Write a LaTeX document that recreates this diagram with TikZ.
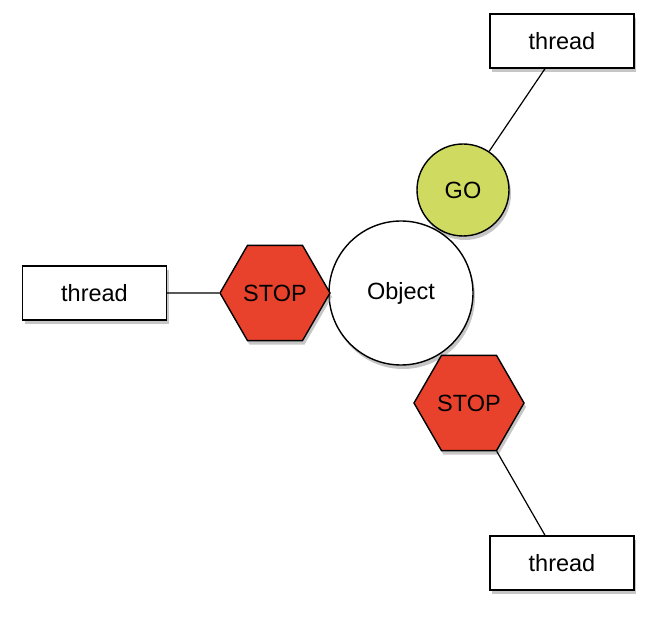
\documentclass[tikz,border=0pt]{standalone}
\usepackage{fontspec}
\setmainfont{Liberation Sans}
\usetikzlibrary{shapes.geometric,shadows}
\definecolor{stopred}{RGB}{232,66,44}
\definecolor{gogreen}{RGB}{207,218,96}
\tikzset{
  shade/.style={drop shadow={shadow xshift=2pt,shadow yshift=-4pt,opacity=0.45}},
  threadbox/.style={draw,line width=1.4pt,fill=white,shade,minimum width=144pt,minimum height=54pt,inner sep=0pt},
  stopsign/.style={draw,line width=1.4pt,fill=stopred,shade,regular polygon,regular polygon sides=6,minimum size=110pt,inner sep=0pt},
  gosign/.style={draw,line width=1.4pt,fill=gogreen,shade,circle,minimum size=92pt,inner sep=0pt},
  objcircle/.style={draw,line width=1.4pt,fill=white,shade,circle,minimum size=144pt,inner sep=0pt},
}
\begin{document}
\begin{tikzpicture}[x=1pt,y=-1pt,font=\fontsize{23.5}{28}\selectfont]
      \useasboundingbox (0,0) rectangle (656,620);
      \node[threadbox] (topthread) at (562,41) {thread};
      \node[threadbox] (leftthread) at (94.5,293) {thread};
      \node[threadbox] (bottomthread) at (562,563) {thread};
      \node[gosign] (go) at (463,190) {GO};
      \node[objcircle] (object) at (401,293) {Object};
      \node[stopsign] (leftstop) at (275,293) {STOP};
      \node[stopsign] (bottomstop) at (469,403) {STOP};
      \begin{scope}[-,line width=1.2pt]
        \draw (go) to ([xshift=-17pt]topthread.south);
        \draw (leftthread) to (leftstop);
        \draw (bottomstop) to ([xshift=-17pt]bottomthread.north);
      \end{scope}
    \end{tikzpicture}
\end{document}
